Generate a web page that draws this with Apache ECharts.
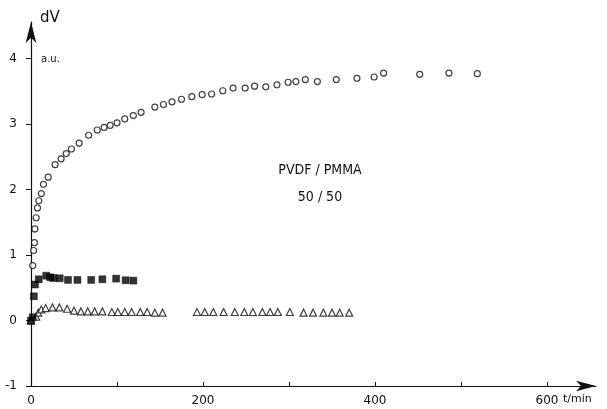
<!DOCTYPE html>
<html>
<head>
<meta charset="utf-8">
<script src="https://cdn.jsdelivr.net/npm/echarts@6/dist/echarts.min.js"></script>
<style>
  html, body { margin: 0; padding: 0; background: #fff; }
  #chart { width: 607px; height: 409px; }
</style>
</head>
<body>
<div id="chart"></div>
<script>
// dV (a.u.) versus time t (min) for PVDF / PMMA 50/50
// open circles
const circleData = [
  [2, 0.84], [3, 1.07], [4, 1.19], [4.5, 1.40], [6, 1.57], [7.5, 1.72], [9, 1.83],
  [12, 1.94], [14.5, 2.08], [20, 2.19], [28, 2.38], [35, 2.47], [41, 2.55], [47, 2.62],
  [56, 2.71], [67, 2.83], [77, 2.91], [85, 2.95], [92, 2.98], [100, 3.02], [109, 3.08],
  [119, 3.13], [128, 3.18], [144, 3.26], [154, 3.30], [164, 3.34], [175, 3.38],
  [187, 3.42], [199, 3.45], [210, 3.46], [223, 3.51], [235, 3.55], [249, 3.55],
  [260, 3.58], [273, 3.57], [286, 3.60], [299, 3.64], [308, 3.65], [319, 3.68],
  [333, 3.65], [355, 3.68], [379, 3.70], [399, 3.72], [410, 3.78], [452, 3.76],
  [486, 3.78], [519, 3.77]
];
// filled squares
const squareData = [
  [0, 0.0], [2, 0.05], [3.3, 0.37], [4.7, 0.55], [9, 0.63], [17.7, 0.685], [22.4, 0.66],
  [26, 0.65], [33.4, 0.645], [43, 0.62], [54, 0.62], [70, 0.62], [83, 0.63],
  [99, 0.64], [110, 0.615], [119, 0.61]
];
// open triangles
const triangleData = [
  [0, 0.0], [6, 0.06], [8.5, 0.12], [12, 0.17], [17, 0.19], [25, 0.20], [33, 0.20],
  [42, 0.18], [50, 0.15], [58, 0.14], [66, 0.14], [74, 0.14], [83, 0.14], [94, 0.13],
  [101, 0.13], [109, 0.13], [117, 0.13], [127, 0.13], [135, 0.13], [144, 0.12],
  [153, 0.12],
  [193, 0.13], [202, 0.13], [212, 0.13], [224, 0.13], [237, 0.13], [248, 0.13],
  [258, 0.13], [269, 0.13], [278, 0.13], [287, 0.13], [301, 0.13], [317, 0.12],
  [328, 0.12], [340, 0.12], [350, 0.12], [359, 0.12], [370, 0.12]
];
const xTickLabels = [0, 200, 400, 600];
const yTickValues = [-1, 0, 1, 2, 3, 4];

const chart = echarts.init(document.getElementById('chart'), null, { renderer: 'canvas' });
const ink = '#111';
const font = "'DejaVu Sans', 'Liberation Sans', sans-serif";

chart.setOption({
  animation: false,
  backgroundColor: '#fff',
  grid: { left: 31, right: 11, top: 22, bottom: 23 },
  xAxis: {
    type: 'value',
    min: 0, max: 657, interval: 100,
    splitLine: { show: false },
    axisLine: {
      onZero: false,
      symbol: ['none', 'arrow'], symbolSize: [8, 20],
      lineStyle: { color: ink, width: 1.2 }
    },
    axisTick: {
      inside: true, length: 4,
      customValues: [0, 100, 200, 300, 400, 500, 600],
      lineStyle: { color: ink }
    },
    axisLabel: {
      customValues: xTickLabels,
      color: ink, fontFamily: font, fontSize: 12, margin: 9
    }
  },
  yAxis: {
    type: 'value',
    min: -1, max: 4.56, interval: 1,
    splitLine: { show: false },
    axisLine: {
      onZero: false,
      symbol: ['none', 'arrow'], symbolSize: [8, 21],
      lineStyle: { color: ink, width: 1.2 }
    },
    axisTick: {
      length: 5, customValues: yTickValues,
      lineStyle: { color: ink }
    },
    axisLabel: {
      customValues: yTickValues,
      color: ink, fontFamily: font, fontSize: 12, margin: 14
    }
  },
  series: [
    {
      type: 'scatter', data: circleData, symbol: 'circle', symbolSize: 6,
      itemStyle: { color: '#fff', borderColor: ink, borderWidth: 1.2 }
    },
    {
      type: 'scatter', data: triangleData, symbol: 'triangle', symbolSize: 7,
      itemStyle: { color: '#fff', borderColor: ink, borderWidth: 1.2 }
    },
    {
      type: 'scatter', data: squareData, symbol: 'rect', symbolSize: 7,
      itemStyle: { color: '#000', borderColor: '#000', borderWidth: 0.5 }
    }
  ],
  graphic: [
    { type: 'text', left: 40, top: 11,
      style: { text: 'dV', fill: ink, font: "15px " + font } },
    { type: 'text', left: 41, top: 54,
      style: { text: 'a.u.', fill: ink, font: "10px " + font } },
    { type: 'text', left: 563, top: 394,
      style: { text: 't/min', fill: ink, font: "11px " + font } },
    { type: 'text', x: 320, y: 163,
      style: { text: 'PVDF / PMMA', fill: ink, align: 'center',
               font: "14px 'DejaVu Sans Condensed', 'Liberation Sans Narrow', " + font } },
    { type: 'text', x: 320, y: 190,
      style: { text: '50 / 50', fill: ink, align: 'center',
               font: "14px 'DejaVu Sans Condensed', 'Liberation Sans Narrow', " + font } }
  ]
});
</script>
</body>
</html>
